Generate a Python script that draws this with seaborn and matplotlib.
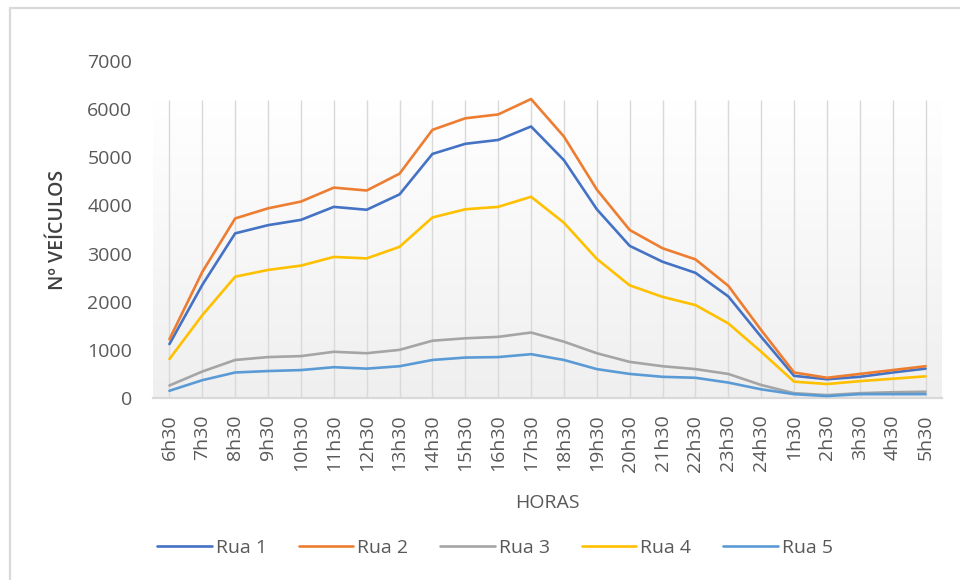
import numpy as np
import pandas as pd
import matplotlib
matplotlib.use("Agg")
import matplotlib.pyplot as plt
import seaborn as sns
from matplotlib.patches import Rectangle

## data
horas = ["6h30", "7h30", "8h30", "9h30", "10h30", "11h30", "12h30", "13h30",
         "14h30", "15h30", "16h30", "17h30", "18h30", "19h30", "20h30",
         "21h30", "22h30", "23h30", "24h30", "1h30", "2h30", "3h30", "4h30",
         "5h30"]
rua1 = [1120, 2350, 3420, 3590, 3700, 3970, 3910, 4230, 5070, 5280, 5360,
        5640, 4940, 3920, 3160, 2830, 2600, 2110, 1270, 460, 390, 440, 530, 610]
rua2 = [1220, 2620, 3730, 3940, 4080, 4370, 4310, 4660, 5570, 5810, 5890,
        6210, 5430, 4330, 3490, 3110, 2880, 2330, 1410, 530, 420, 500, 580, 660]
rua3 = [260, 550, 790, 850, 870, 960, 930, 1000, 1190, 1240, 1270, 1360,
        1170, 930, 750, 660, 600, 500, 270, 100, 60, 100, 120, 130]
rua4 = [810, 1720, 2520, 2660, 2750, 2930, 2900, 3140, 3750, 3920, 3970,
        4180, 3640, 2890, 2340, 2100, 1930, 1550, 960, 340, 290, 350, 400, 450]
rua5 = [150, 370, 530, 560, 580, 640, 610, 660, 790, 840, 850, 910, 790,
        600, 500, 440, 420, 320, 180, 80, 40, 80, 80, 80]

series = {"Rua 1": rua1, "Rua 2": rua2, "Rua 3": rua3, "Rua 4": rua4, "Rua 5": rua5}
cores = ["#4472C4", "#ED7D31", "#A5A5A5", "#FFC000", "#5B9BD5"]

dtf = pd.concat([pd.DataFrame({"pos": np.arange(len(horas)), "hora": horas,
                               "valor": v, "rua": k})
                 for k, v in series.items()], ignore_index=True)

## plot
sns.set_style("white")
plt.rcParams["font.family"] = ["Open Sans", "DejaVu Sans"]
txt = "#595959"
fs = 14

fig = plt.figure(figsize=(9.6, 5.8), dpi=100)
ax = fig.add_axes([153 / 960, 1 - 398 / 580, (942 - 153) / 960, (398 - 61) / 580])

# outer chart border
fig.patches.append(Rectangle((10 / 960, -0.1), 1.1, 1 - 8 / 580 + 0.1,
                             transform=fig.transFigure, fill=False,
                             edgecolor="#d9d9d9", linewidth=1.6))

n = len(horas)
topo = 6200  # top of the shaded plot area
grad = np.linspace(1, 0, 256).reshape(-1, 1)
ax.imshow(grad, cmap=matplotlib.colors.LinearSegmentedColormap.from_list(
    "g", ["#ffffff", "#efefef"]), aspect="auto",
    extent=[-0.5, n - 0.5, 0, topo], zorder=0, origin="lower")
ax.vlines(np.arange(n), 0, topo, color="#d9d9d9", linewidth=1, zorder=1)

sns.lineplot(data=dtf, x="pos", y="valor", hue="rua", palette=cores,
             linewidth=1.9, sort=False, ax=ax, zorder=3)

ax.set_xlim(-0.5, n - 0.5)
ax.set_ylim(0, 7000)
ax.set_yticks(np.arange(0, 7001, 1000))
ax.set_xticks(np.arange(n))
ax.set_xticklabels(horas, rotation=90)
ax.tick_params(axis="both", length=0, labelsize=fs, labelcolor=txt)
ax.tick_params(axis="x", pad=12)
ax.tick_params(axis="y", pad=15)
for s in ["top", "right", "left"]:
    ax.spines[s].set_visible(False)
ax.spines["bottom"].set_color("#d9d9d9")
ax.spines["bottom"].set_linewidth(1.6)
ax.patch.set_alpha(0)

ax.set_xlabel("HORAS", fontsize=fs, color=txt, labelpad=16)
ax.set_ylabel("Nº VEÍCULOS", fontsize=fs, color="#404040", labelpad=14,
              fontweight="semibold")

ax.legend_.remove()
handles, labels = ax.get_legend_handles_labels()
fig.legend(handles, labels, loc="center", bbox_to_anchor=(495 / 960, 1 - 548 / 580),
           ncol=5, frameon=False, fontsize=fs, labelcolor=txt,
           handlelength=2.8, handletextpad=0.2, columnspacing=1.65)

fig.savefig("out.png", dpi=100)
